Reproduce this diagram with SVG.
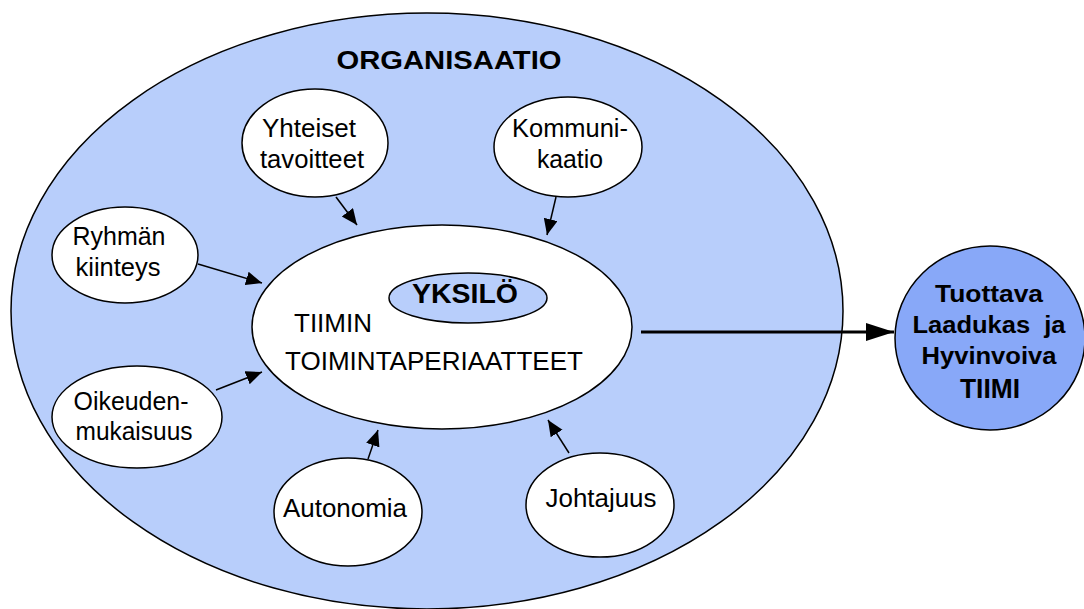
<svg xmlns="http://www.w3.org/2000/svg" width="1084" height="609" viewBox="0 0 1084 609">
<style>
.el{fill:#ffffff;stroke:#000;stroke-width:1.5}
.t{font-family:"Liberation Sans",Arial,sans-serif;font-size:25px;fill:#000;text-anchor:middle}
.b{font-family:"Liberation Sans",Arial,sans-serif;font-weight:bold;fill:#000;text-anchor:middle}
.c{stroke:#000;stroke-width:1.5;fill:none}
</style>
<defs>
<marker id="ah" markerUnits="userSpaceOnUse" markerWidth="17" markerHeight="15" refX="16" refY="7" orient="auto"><path d="M0,0 L16,7 L0,14 z" fill="#000"/></marker>
<marker id="ahb" markerUnits="userSpaceOnUse" markerWidth="29" markerHeight="19" refX="28" refY="9" orient="auto"><path d="M0,0 L28,9 L0,18 z" fill="#000"/></marker>
</defs>
<rect width="1084" height="609" fill="#fff"/>
<g id="organisaatio">
<ellipse cx="427" cy="311" rx="416" ry="298" fill="#b8cefb" stroke="#000" stroke-width="1.5"/>
<text class="b" x="449" y="69" font-size="26" textLength="225" lengthAdjust="spacingAndGlyphs">ORGANISAATIO</text>
</g>
<g id="tiimin">
<ellipse class="el" cx="442" cy="327" rx="190" ry="102"/>
<text class="t" x="333" y="332" textLength="78" lengthAdjust="spacingAndGlyphs">TIIMIN</text>
<text class="t" x="434" y="370" textLength="298" lengthAdjust="spacingAndGlyphs">TOIMINTAPERIAATTEET</text>
</g>
<g id="yksilo">
<ellipse cx="468" cy="298" rx="79" ry="25" fill="#b8cefb" stroke="#000" stroke-width="1.5"/>
<text class="b" x="465" y="303" font-size="27" textLength="106" lengthAdjust="spacingAndGlyphs">YKSILÖ</text>
</g>
<g id="yhteiset">
<ellipse class="el" cx="315" cy="143" rx="73" ry="54"/>
<text class="t" x="309" y="137" textLength="94" lengthAdjust="spacingAndGlyphs">Yhteiset</text>
<text class="t" x="312" y="168" textLength="104" lengthAdjust="spacingAndGlyphs">tavoitteet</text>
</g>
<g id="kommunikaatio">
<ellipse class="el" cx="568" cy="147" rx="74" ry="50"/>
<text class="t" x="570" y="137" textLength="116" lengthAdjust="spacingAndGlyphs">Kommuni-</text>
<text class="t" x="570" y="168" textLength="66" lengthAdjust="spacingAndGlyphs">kaatio</text>
</g>
<g id="ryhman">
<ellipse class="el" cx="125" cy="255" rx="73" ry="48"/>
<text class="t" x="119" y="245" textLength="93" lengthAdjust="spacingAndGlyphs">Ryhmän</text>
<text class="t" x="118" y="276" textLength="85" lengthAdjust="spacingAndGlyphs">kiinteys</text>
</g>
<g id="oikeudenmukaisuus">
<ellipse class="el" cx="137" cy="417" rx="85" ry="51"/>
<text class="t" x="131" y="410" textLength="115" lengthAdjust="spacingAndGlyphs">Oikeuden-</text>
<text class="t" x="134" y="440" textLength="117" lengthAdjust="spacingAndGlyphs">mukaisuus</text>
</g>
<g id="autonomia">
<ellipse class="el" cx="348" cy="512" rx="74" ry="54"/>
<text class="t" x="345" y="517" textLength="124" lengthAdjust="spacingAndGlyphs">Autonomia</text>
</g>
<g id="johtajuus">
<ellipse class="el" cx="600" cy="505" rx="74" ry="52"/>
<text class="t" x="601" y="507" textLength="111" lengthAdjust="spacingAndGlyphs">Johtajuus</text>
</g>
<g id="tiimi">
<ellipse cx="990" cy="338" rx="95" ry="92" fill="#88a8f8" stroke="#000" stroke-width="1.5"/>
<text class="b" x="989" y="302" font-size="23" textLength="108" lengthAdjust="spacingAndGlyphs">Tuottava</text>
<text class="b" x="989" y="333" font-size="23" textLength="153" lengthAdjust="spacingAndGlyphs" xml:space="preserve">Laadukas  ja</text>
<text class="b" x="989" y="364" font-size="23" textLength="135" lengthAdjust="spacingAndGlyphs">Hyvinvoiva</text>
<text class="b" x="990" y="398" font-size="28" textLength="60" lengthAdjust="spacingAndGlyphs">TIIMI</text>
</g>
<g id="connectors">
<line class="c" x1="336" y1="197" x2="357" y2="225" marker-end="url(#ah)"/>
<line class="c" x1="556" y1="197" x2="547" y2="235" marker-end="url(#ah)"/>
<line class="c" x1="198" y1="264" x2="262" y2="283" marker-end="url(#ah)"/>
<line class="c" x1="216" y1="390" x2="262" y2="372" marker-end="url(#ah)"/>
<line class="c" x1="368" y1="459" x2="378" y2="430" marker-end="url(#ah)"/>
<line class="c" x1="569" y1="453" x2="548" y2="420" marker-end="url(#ah)"/>
<line x1="641" y1="332" x2="894" y2="332" stroke="#000" stroke-width="3" marker-end="url(#ahb)"/>
</g>
</svg>
